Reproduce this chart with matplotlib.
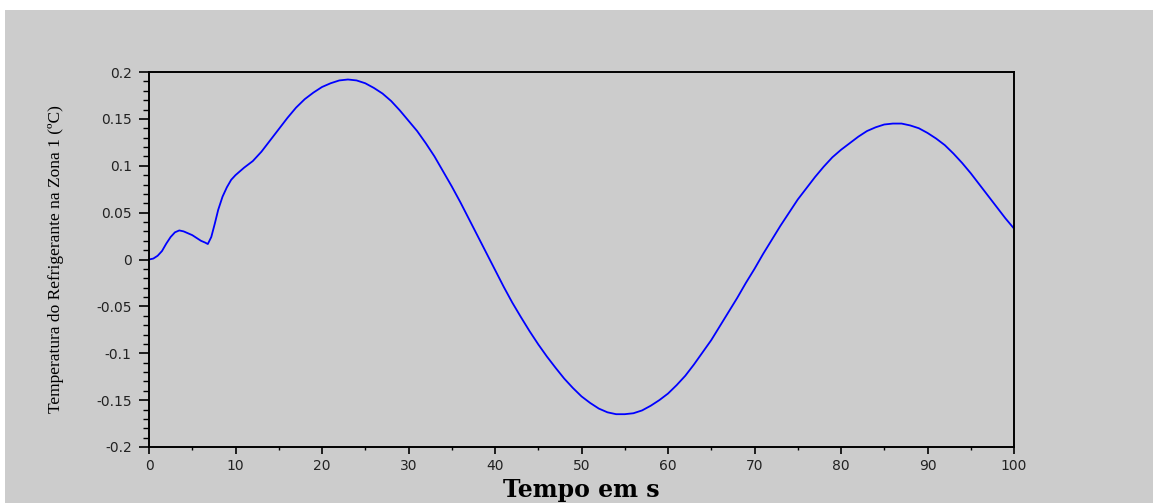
import matplotlib
matplotlib.use("Agg")
import matplotlib.pyplot as plt
from matplotlib.patches import Rectangle
from matplotlib.ticker import MultipleLocator

# Data
tempo = [0, 0.5, 1, 1.5, 2, 2.5, 3, 3.5, 4, 4.5, 5, 5.5, 6, 6.5, 6.8, 7.2, 7.6, 8, 8.5, 9, 9.5,
         10, 10.5, 11, 12, 13, 14, 15, 16, 17, 18, 19, 20, 21, 22, 23, 24, 25, 26, 27, 28, 29,
         30, 31, 32, 33, 34, 35, 36, 37, 38, 39, 40, 41, 42, 43, 44, 45, 46, 47, 48, 49,
         50, 51, 52, 53, 54, 55, 56, 57, 58, 59, 60, 61, 62, 63, 64, 65, 66, 67, 68, 69,
         70, 71, 72, 73, 74, 75, 76, 77, 78, 79, 80, 81, 82, 83, 84, 85, 86, 87, 88, 89,
         90, 91, 92, 93, 94, 95, 96, 97, 98, 99, 100]
temperatura = [0.000, 0.001, 0.004, 0.009, 0.017, 0.024, 0.029, 0.031, 0.030, 0.028, 0.026,
               0.023, 0.020, 0.018, 0.0165, 0.024, 0.038, 0.053, 0.067, 0.077, 0.085,
               0.090, 0.094, 0.098, 0.105, 0.115, 0.127, 0.139, 0.151, 0.162, 0.171, 0.178,
               0.184, 0.188, 0.191, 0.192, 0.191, 0.188, 0.183, 0.177, 0.169, 0.159,
               0.148, 0.137, 0.124, 0.110, 0.094, 0.078, 0.061, 0.043, 0.025, 0.007,
               -0.011, -0.029, -0.046, -0.0615, -0.0765, -0.0905, -0.1035, -0.1155, -0.127, -0.137,
               -0.146, -0.153, -0.159, -0.163, -0.165, -0.165, -0.164, -0.161, -0.156, -0.150,
               -0.143, -0.134, -0.124, -0.112, -0.099, -0.086, -0.071, -0.056, -0.041, -0.025,
               -0.010, 0.006, 0.021, 0.036, 0.050, 0.064, 0.076, 0.088, 0.099, 0.109,
               0.117, 0.124, 0.131, 0.137, 0.141, 0.144, 0.145, 0.145, 0.143, 0.140,
               0.135, 0.129, 0.122, 0.113, 0.103, 0.092, 0.080, 0.068, 0.056, 0.044, 0.033]

x_ticks = [0, 10, 20, 30, 40, 50, 60, 70, 80, 90, 100]
y_ticks = [-0.2, -0.15, -0.1, -0.05, 0, 0.05, 0.1, 0.15, 0.2]
y_tick_labels = ["-0.2", "-0.15", "-0.1", "-0.05", "0", "0.05", "0.1", "0.15", "0.2"]

GRAY = "#cccccc"

fig = plt.figure(figsize=(11.53, 5.03), dpi=100)
fig.patch.set_facecolor("white")
fig.add_artist(Rectangle((5 / 1153, 0), 1 - 5 / 1153, 1 - 10 / 503,
                         transform=fig.transFigure, facecolor=GRAY,
                         edgecolor="none", zorder=0))

ax = fig.add_axes([149 / 1153, 1 - 447 / 503, 865 / 1153, 375 / 503])
ax.set_facecolor(GRAY)
ax.plot(tempo, temperatura, color="#0000ff", linewidth=1.3)

ax.set_xlim(0, 100)
ax.set_ylim(-0.2, 0.2)
ax.set_xticks(x_ticks)
ax.set_xticklabels([str(v) for v in x_ticks])
ax.set_yticks(y_ticks)
ax.set_yticklabels(y_tick_labels)
ax.xaxis.set_minor_locator(MultipleLocator(5))
ax.yaxis.set_minor_locator(MultipleLocator(0.01))

for s in ax.spines.values():
    s.set_linewidth(1.4)
    s.set_color("black")

ax.tick_params(axis="y", which="major", direction="out", length=7.5, width=1.2,
               pad=5, labelsize=10)
ax.tick_params(axis="y", which="minor", direction="out", length=4.5, width=1.0)
ax.tick_params(axis="x", which="major", direction="out", length=5, width=1.2,
               pad=4, labelsize=10)
ax.tick_params(axis="x", which="minor", direction="out", length=2.5, width=1.0)
for lab in ax.get_xticklabels() + ax.get_yticklabels():
    lab.set_fontfamily("DejaVu Sans")
    lab.set_color("#222222")

ax.set_ylabel("Temperatura do Refrigerante na Zona 1 (ºC)",
              fontfamily="Liberation Serif", fontsize=12.5)
ax.yaxis.set_label_coords((64 - 149) / 865, 0.5)
ax.set_xlabel("Tempo em s", fontfamily="DejaVu Serif", fontweight="bold",
              fontsize=17)
ax.xaxis.set_label_coords(0.5, (447 - 478) / 375)

fig.savefig("out.png", dpi=100, facecolor=fig.get_facecolor())
